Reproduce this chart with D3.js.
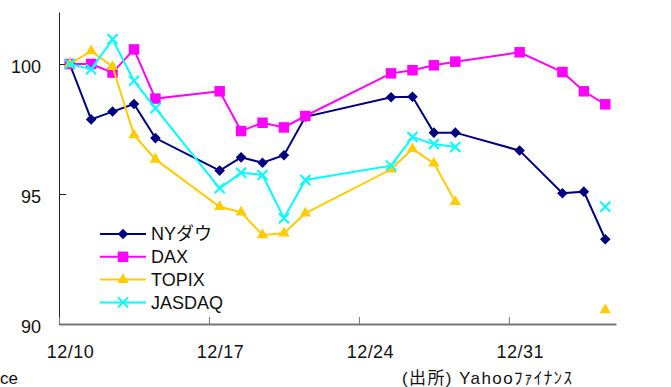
<!DOCTYPE html>
<html>
<head>
<meta charset="utf-8">
<script src="https://cdn.jsdelivr.net/npm/d3@7"></script>
<style>
  body { margin: 0; background: #fff; }
  svg text { font-family: "Liberation Sans", Arial, "Noto Sans CJK JP", sans-serif; fill: #111; }
</style>
</head>
<body>
<div id="chart"></div>
<script>
// trading days (2018/12/10 - 2019/1/4)
var dates = ["2018-12-10", "2018-12-11", "2018-12-12", "2018-12-13", "2018-12-14",
  "2018-12-17", "2018-12-18", "2018-12-19", "2018-12-20", "2018-12-21",
  "2018-12-25", "2018-12-26", "2018-12-27", "2018-12-28", "2018-12-31",
  "2019-01-02", "2019-01-03", "2019-01-04"];

var nyDow = [100, 97.87, 98.17, 98.46, 97.15, 95.9, 96.41, 96.2, 96.49, 97.97,
  98.72, 98.74, 97.36, 97.36, 96.67, 95.03, 95.09, 93.26];
var dax = [100, 100.0, 99.67, 100.56, 98.67, 98.95, 97.42, 97.74, 97.56, 98.0,
  99.64, 99.76, 99.95, 100.09, 100.45, 99.69, 98.95, 98.45];
var topix = [100, 100.5, 99.9, 97.27, 96.33, 94.51, 94.3, 93.42, 93.49, 94.26,
  95.95, 96.73, 96.18, 94.7, null, null, null, 90.54];
var jasdaq = [100, 99.8, 100.95, 99.35, 98.3, 95.22, 95.82, 95.73, 94.07, 95.54,
  96.09, 97.19, 96.92, 96.81, null, null, null, 94.51];

var seriesNames = ["NYダウ", "DAX", "TOPIX", "JASDAQ"];
var xTicks = ["2018-12-10", "2018-12-17", "2018-12-24", "2018-12-31"];
var yTicks = [90, 95, 100];

var width = 671, height = 387;
var parse = d3.timeParse("%Y-%m-%d");
var halfDay = 12 * 3600 * 1000;

var x = d3.scaleTime()
  .domain([parse("2018-12-10"), parse("2019-01-05")])
  .range([59, 616]);
var y = d3.scaleLinear()
  .domain([90, 102])
  .range([324, 12]);

var svg = d3.select("#chart").append("svg")
  .attr("width", width)
  .attr("height", height);

var series = [
  { name: seriesNames[0], values: nyDow, color: "#000080", marker: "diamond" },
  { name: seriesNames[1], values: dax, color: "#ff00ff", marker: "square" },
  { name: seriesNames[2], values: topix, color: "#ffcc00", marker: "triangle" },
  { name: seriesNames[3], values: jasdaq, color: "#00ffff", marker: "cross" }
];

// y axis
var yAxis = svg.append("g")
  .attr("transform", "translate(59,0)")
  .call(d3.axisLeft(y).tickValues(yTicks).tickSizeInner(-7).tickSizeOuter(0).tickPadding(18));
yAxis.select(".domain").attr("stroke", "#222");
yAxis.selectAll(".tick line").attr("stroke", "#222");
yAxis.selectAll("text").style("font-size", "18px").attr("dy", "0.45em");

// x axis
var xAxis = svg.append("g")
  .attr("transform", "translate(0,324)")
  .call(d3.axisBottom(x).tickValues(xTicks.map(parse)).tickSizeInner(-7).tickSizeOuter(0)
    .tickFormat(d3.timeFormat("%-m/%-d")));
xAxis.select(".domain").attr("stroke", "#777").attr("stroke-width", 2);
xAxis.selectAll(".tick line").attr("stroke", "#777");
xAxis.selectAll(".tick text")
  .attr("x", x(new Date(+parse("2018-12-10") + halfDay)) - 59)
  .attr("y", 21)
  .attr("textLength", 47)
  .style("font-size", "18px");

// markers
function drawMarker(g, type, color) {
  if (type === "diamond") {
    g.append("path").attr("d", d3.symbol(d3.symbolSquare, 56)())
      .attr("transform", "rotate(45)").attr("fill", color);
  } else if (type === "square") {
    g.append("path").attr("d", d3.symbol(d3.symbolSquare, 110)()).attr("fill", color);
  } else if (type === "triangle") {
    g.append("path").attr("d", d3.symbol(d3.symbolTriangle, 56)()).attr("fill", color);
  } else {
    g.append("path").attr("d", "M-5,-5L5,5M-5,5L5,-5")
      .attr("stroke", color).attr("stroke-width", 2).attr("fill", "none");
  }
}

var line = d3.line()
  .defined(function (d) { return d.v != null; })
  .x(function (d) { return x(new Date(+d.date + halfDay)); })
  .y(function (d) { return y(d.v); });

series.forEach(function (s) {
  var pts = dates.map(function (d, i) { return { date: parse(d), v: s.values[i] }; });
  var g = svg.append("g");
  g.append("path")
    .attr("d", line(pts))
    .attr("fill", "none")
    .attr("stroke", s.color)
    .attr("stroke-width", 2);
  pts.filter(function (p) { return p.v != null; }).forEach(function (p) {
    var m = g.append("g")
      .attr("transform", "translate(" + x(new Date(+p.date + halfDay)) + "," + y(p.v) + ")");
    drawMarker(m, s.marker, s.color);
  });
});

// legend
var legend = svg.append("g").attr("transform", "translate(100,234)");
series.forEach(function (s, i) {
  var row = legend.append("g").attr("transform", "translate(0," + (i * 22.8) + ")");
  row.append("line").attr("x1", 0).attr("x2", 46)
    .attr("stroke", s.color).attr("stroke-width", 2);
  drawMarker(row.append("g").attr("transform", "translate(23,0)"), s.marker, s.color);
  row.append("text").attr("x", 51).attr("dy", "0.36em")
    .style("font-size", "18px").text(s.name);
});

// source notes
svg.append("text").attr("x", 402).attr("y", 384)
  .attr("textLength", 170)
  .style("font-size", "17px").text("(出所) Yahooﾌｧｲﾅﾝｽ");
svg.append("text").attr("x", 0).attr("y", 384)
  .style("font-size", "17px").text("ce");
</script>
</body>
</html>
